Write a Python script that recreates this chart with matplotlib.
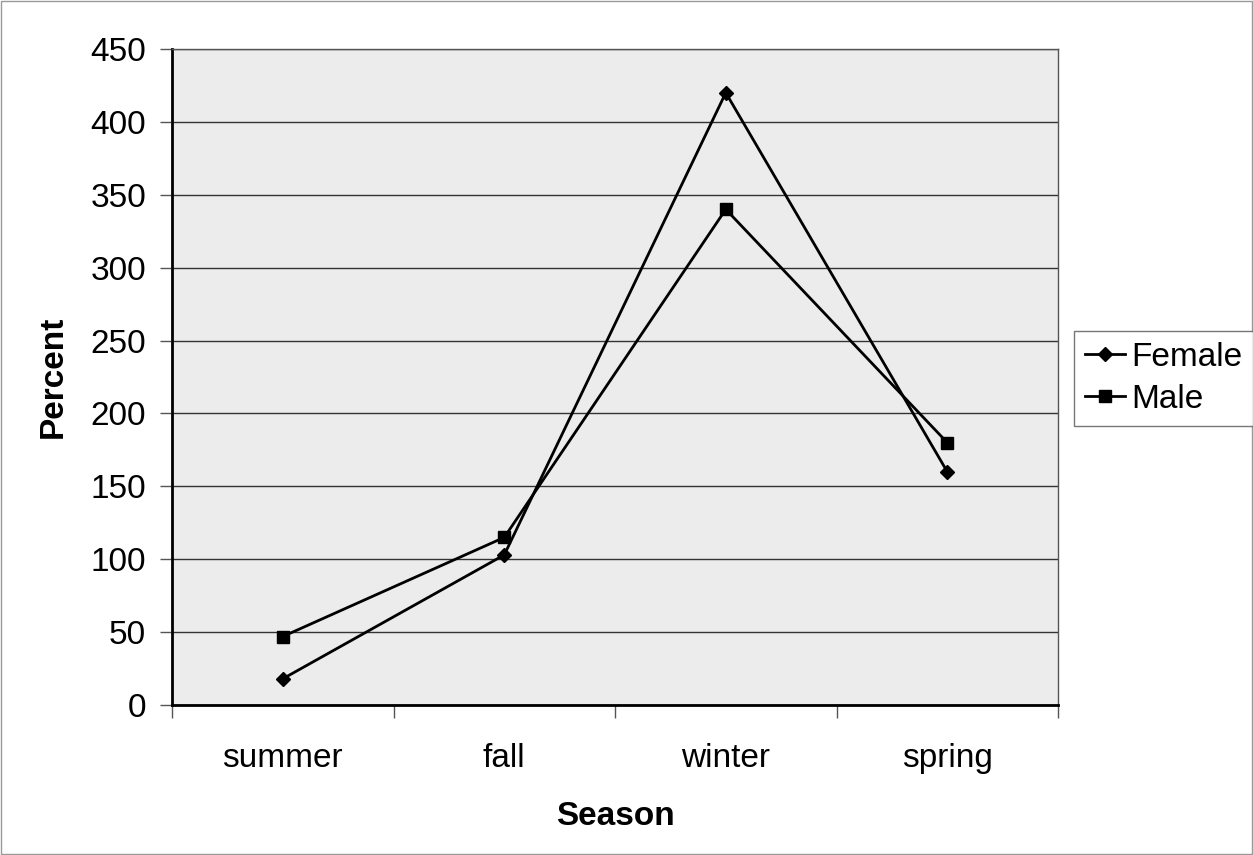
import matplotlib
matplotlib.use("Agg")
import matplotlib.pyplot as plt

seasons = ["summer", "fall", "winter", "spring"]
female = [18, 103, 420, 160]
male = [47, 115, 340, 180]

plt.rcParams['font.family'] = ['Liberation Sans', 'DejaVu Sans']

fig = plt.figure(figsize=(12.53, 8.55), dpi=100)
ax = fig.add_axes([0.1373, 0.1754, 0.7071, 0.7673])
ax.set_facecolor('#ececec')

x = list(range(len(seasons)))
ax.plot(x, female, color='black', lw=2, marker='D', ms=7, label='Female')
ax.plot(x, male, color='black', lw=2, marker='s', ms=8, label='Male')

ax.set_xlim(-0.5, 3.5)
ax.set_ylim(0, 450)
ax.set_yticks(range(0, 451, 50))
ax.yaxis.grid(True, color='#333333', lw=1)
ax.set_axisbelow(True)

ax.set_xticks(x)
ax.set_xticklabels(seasons)
ax.set_xticks([-0.5, 0.5, 1.5, 2.5, 3.5], minor=True)
ax.tick_params(axis='x', which='major', length=0, pad=27, labelsize=24)
ax.tick_params(axis='x', which='minor', length=9, width=1, color='#555555')
ax.tick_params(axis='y', length=8.6, width=1, color='#555555', labelsize=24, pad=10)

for s in ['left', 'bottom']:
    ax.spines[s].set_linewidth(2)
for s in ['top', 'right']:
    ax.spines[s].set_linewidth(1)
    ax.spines[s].set_color('#555555')

ax.set_xlabel('Season', fontsize=24, fontweight='bold')
ax.set_ylabel('Percent', fontsize=24, fontweight='bold')
ax.xaxis.set_label_coords(0.5, -0.147)
ax.yaxis.set_label_coords(-0.117, 0.5)

leg = fig.legend(loc='upper left', bbox_to_anchor=(0.857, 0.613), fontsize=24,
                 frameon=True, fancybox=False, edgecolor='#555555',
                 handlelength=1.2, handletextpad=0.2, borderpad=0.33,
                 labelspacing=0.32, borderaxespad=0)
leg.get_frame().set_linewidth(1)

fig.patches.append(plt.Rectangle((0.001, 0.001), 0.998, 0.998, transform=fig.transFigure,
                                 fill=False, edgecolor='#999999', lw=1))

fig.savefig('out.png', dpi=100)
